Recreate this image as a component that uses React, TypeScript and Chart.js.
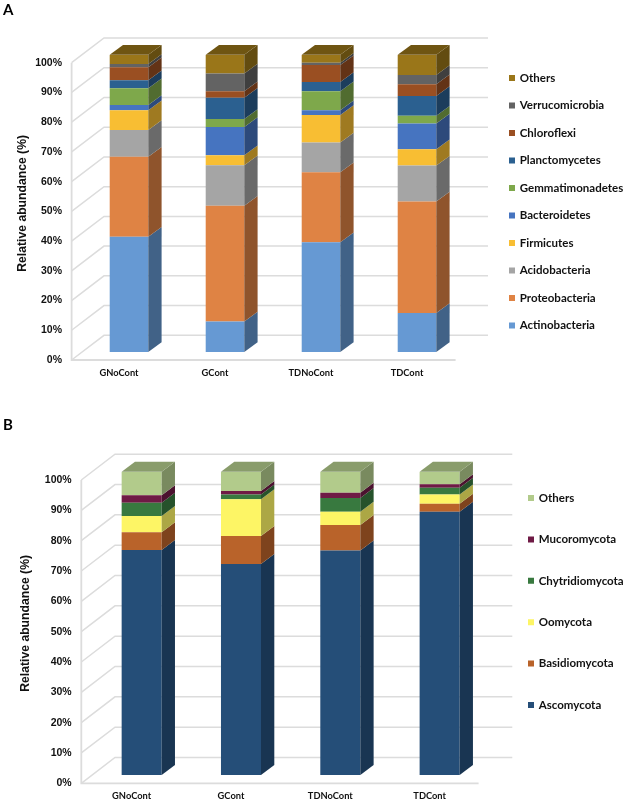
import React, { useEffect, useRef } from "react";
import { Chart, registerables } from "chart.js";

Chart.register(...registerables);

const categories = ["GNoCont", "GCont", "TDNoCont", "TDCont"];
const percentTicks = [0, 10, 20, 30, 40, 50, 60, 70, 80, 90, 100];

// Panel A (bacteria)
const actinobacteria = [38.8, 10.3, 36.9, 13.1];
const proteobacteria = [26.9, 38.9, 23.6, 37.5];
const acidobacteria = [9.0, 13.6, 10.0, 12.1];
const firmicutes = [6.6, 3.4, 9.2, 5.5];
const bacteroidetes = [1.8, 9.5, 1.6, 8.7];
const gemmatimonadetes = [5.6, 2.7, 6.4, 2.6];
const planctomycetes = [2.7, 7.1, 3.1, 6.6];
const chloroflexi = [4.4, 2.2, 5.7, 4.0];
const verrucomicrobia = [1.1, 6.0, 0.8, 3.1];
const othersA = [3.1, 6.3, 2.7, 6.8];

// Panel B (fungi)
const ascomycota = [74.2, 69.6, 74.0, 86.8];
const basidiomycota = [5.8, 9.2, 8.4, 2.6];
const oomycota = [5.4, 12.1, 4.4, 3.1];
const chytridiomycota = [4.4, 1.6, 4.5, 2.2];
const mucoromycota = [2.4, 1.1, 1.8, 1.2];
const othersB = [7.8, 6.4, 6.9, 4.1];

const seriesA = [
  { label: "Actinobacteria", data: actinobacteria, color: "#6699D3" },
  { label: "Proteobacteria", data: proteobacteria, color: "#DF8344" },
  { label: "Acidobacteria", data: acidobacteria, color: "#A5A5A5" },
  { label: "Firmicutes", data: firmicutes, color: "#F8BE33" },
  { label: "Bacteroidetes", data: bacteroidetes, color: "#4674C0" },
  { label: "Gemmatimonadetes", data: gemmatimonadetes, color: "#7EA84B" },
  { label: "Planctomycetes", data: planctomycetes, color: "#2B6090" },
  { label: "Chloroflexi", data: chloroflexi, color: "#9A4F22" },
  { label: "Verrucomicrobia", data: verrucomicrobia, color: "#636363" },
  { label: "Others", data: othersA, color: "#9A7619" },
];

const seriesB = [
  { label: "Ascomycota", data: ascomycota, color: "#254E78" },
  { label: "Basidiomycota", data: basidiomycota, color: "#B9632A" },
  { label: "Oomycota", data: oomycota, color: "#FDF565" },
  { label: "Chytridiomycota", data: chytridiomycota, color: "#38793F" },
  { label: "Mucoromycota", data: mucoromycota, color: "#6F1A45" },
  { label: "Others", data: othersB, color: "#B2CB8B" },
];

function shade(hex: string, f: number) {
  const n = parseInt(hex.slice(1), 16);
  const r = Math.round(((n >> 16) & 255) * f);
  const g = Math.round(((n >> 8) & 255) * f);
  const b = Math.round((n & 255) * f);
  return `rgb(${r},${g},${b})`;
}

type Layout = {
  height: number;
  top: number;
  bottom: number;
  left: number;
  right: number;
  barPct: number;
  frontDx: number;
  frontDy: number;
  backDx: number;
  backDy: number;
  depthDx: number;
  depthDy: number;
  sideF: number;
  topF: number;
  tickPad: number;
  titlePad: number;
  xLabelOffset: number;
  xLabelPad: number;
  legendX: number;
  legendY: number;
  legendPad: number;
};

const layoutA: Layout = {
  height: 400, top: 54.7, bottom: 352, left: 81, right: 465, barPct: 0.402,
  frontDx: -9.4, frontDy: 8, backDx: 23, backDy: -16.7,
  depthDx: 13.3, depthDy: -9.7, sideF: 0.64, topF: 0.72,
  tickPad: 19, titlePad: 15, xLabelOffset: -10, xLabelPad: 15.5,
  legendX: 510, legendY: 78, legendPad: 16,
};

const layoutB: Layout = {
  height: 402, top: 71.7, bottom: 375, left: 92, right: 489.3, barPct: 0.403,
  frontDx: -10.7, frontDy: 8.3, backDx: 23, backDy: -17.5,
  depthDx: 13.3, depthDy: -10, sideF: 0.68, topF: 0.77,
  tickPad: 20.3, titlePad: 18, xLabelOffset: -10, xLabelPad: 15.5,
  legendX: 529, legendY: 98, legendPad: 29.9,
};

function Panel({ series, layout, offsetTop }: { series: typeof seriesA; layout: Layout; offsetTop: number }) {
  const ref = useRef<HTMLCanvasElement | null>(null);

  useEffect(() => {
    if (!ref.current) return;
    const L = layout;
    const wallColor = "#DCDCDC";

    const wallPlugin = {
      id: "wall3d",
      beforeDatasetsDraw(chart: any) {
        const { ctx, scales } = chart;
        const y = scales.y;
        const xL = chart.chartArea.left;
        const xR = chart.chartArea.right;
        const yAt = (v: number) => y.getPixelForValue(v);
        ctx.save();
        ctx.lineWidth = 1.5;
        ctx.strokeStyle = wallColor;
        percentTicks.forEach((v) => {
          ctx.beginPath();
          ctx.moveTo(xL + L.frontDx, yAt(v) + L.frontDy);
          ctx.lineTo(xL + L.backDx, yAt(v) + L.backDy);
          ctx.lineTo(xR + L.backDx, yAt(v) + L.backDy);
          ctx.stroke();
        });
        ctx.lineWidth = 1.8;
        ctx.beginPath();
        ctx.moveTo(xL + L.frontDx, yAt(100) + L.frontDy);
        ctx.lineTo(xL + L.frontDx, yAt(0) + L.frontDy);
        ctx.lineTo(xR + L.frontDx, yAt(0) + L.frontDy);
        ctx.stroke();
        ctx.restore();
      },
      afterDatasetsDraw(chart: any) {
        const { ctx } = chart;
        const count = chart.data.datasets.length;
        ctx.save();
        chart.data.datasets.forEach((ds: any, i: number) => {
          const meta = chart.getDatasetMeta(i);
          meta.data.forEach((bar: any) => {
            const right = bar.x + bar.width / 2;
            const left = bar.x - bar.width / 2;
            ctx.fillStyle = shade(ds.backgroundColor, L.sideF);
            ctx.beginPath();
            ctx.moveTo(right, bar.base);
            ctx.lineTo(right + L.depthDx, bar.base + L.depthDy);
            ctx.lineTo(right + L.depthDx, bar.y + L.depthDy);
            ctx.lineTo(right, bar.y);
            ctx.closePath();
            ctx.fill();
            if (i === count - 1) {
              ctx.fillStyle = shade(ds.backgroundColor, L.topF);
              ctx.beginPath();
              ctx.moveTo(left, bar.y);
              ctx.lineTo(left + L.depthDx, bar.y + L.depthDy);
              ctx.lineTo(right + L.depthDx, bar.y + L.depthDy);
              ctx.lineTo(right, bar.y);
              ctx.closePath();
              ctx.fill();
            }
          });
        });
        ctx.restore();
      },
      afterLayout(chart: any) {
        const lg = chart.legend;
        if (!lg) return;
        const h = lg.height;
        const w = lg.width;
        const fontSize = 11.5;
        lg.left = L.legendX - L.legendPad;
        lg.right = lg.left + w;
        lg.top = L.legendY - L.legendPad - fontSize / 2;
        lg.bottom = lg.top + h;
      },
    };

    const chart = new Chart(ref.current, {
      type: "bar",
      data: {
        labels: categories,
        datasets: series.map((s) => ({
          label: s.label,
          data: s.data,
          backgroundColor: s.color,
          borderWidth: 0,
          categoryPercentage: 1,
          barPercentage: L.barPct,
        })),
      },
      plugins: [wallPlugin],
      options: {
        animation: false,
        responsive: false,
        layout: {
          padding: { left: 0, top: L.top, right: 625 - L.right, bottom: L.height - L.bottom - 30 },
        },
        scales: {
          x: {
            stacked: true,
            grid: { display: false, drawTicks: false },
            border: { display: false },
            afterFit: (s: any) => { s.height = 30; },
            ticks: {
              color: "#111",
              maxRotation: 0,
              autoSkip: false,
              labelOffset: L.xLabelOffset,
              padding: L.xLabelPad,
              font: { family: "Lato", weight: "bold", size: 9.3 },
            },
          },
          y: {
            stacked: true,
            min: 0,
            max: 100,
            grid: { display: false, drawTicks: false },
            border: { display: false },
            afterFit: (s: any) => { s.width = L.left; },
            afterBuildTicks: (s: any) => { s.ticks = percentTicks.map((value) => ({ value })); },
            title: {
              display: true,
              text: "Relative abundance (%)",
              color: "#111",
              padding: { top: L.titlePad, bottom: 0 },
              font: { family: "Liberation Sans", weight: "bold", size: 12.2 },
            },
            ticks: {
              color: "#111",
              padding: L.tickPad,
              labelOffset: L.frontDy,
              callback: (v: any) => `${v}%`,
              font: { family: "Liberation Sans", weight: "bold", size: 10.5 },
            },
          },
        },
        plugins: {
          tooltip: { enabled: false },
          legend: {
            display: true,
            position: "chartArea",
            align: "start",
            reverse: true,
            labels: {
              boxWidth: 4,
              boxHeight: 4,
              padding: L.legendPad,
              color: "#111",
              font: { family: "Lato", weight: "bold", size: 11.5 },
              generateLabels: (c: any) =>
                Chart.defaults.plugins.legend.labels.generateLabels(c).map((item: any) => ({
                  ...item,
                  lineWidth: 2,
                  strokeStyle: item.fillStyle,
                })),
            },
          },
        },
      },
    } as any);
    return () => chart.destroy();
  }, [series, layout]);

  return (
    <canvas
      ref={ref}
      width={625}
      height={layout.height}
      style={{ position: "absolute", left: 0, top: offsetTop, width: 625, height: layout.height }}
    />
  );
}

const letterStyle: React.CSSProperties = {
  position: "absolute",
  left: 3,
  fontFamily: "Lato",
  fontWeight: 700,
  fontSize: 15,
  lineHeight: "16px",
  color: "#000",
};

export default function App() {
  return (
    <div style={{ position: "absolute", left: 0, top: 0, width: 625, height: 802, background: "#fff", overflow: "hidden" }}>
      <Panel series={seriesA} layout={layoutA} offsetTop={0} />
      <Panel series={seriesB} layout={layoutB} offsetTop={400} />
      <div style={{ ...letterStyle, top: 1 }}>A</div>
      <div style={{ ...letterStyle, top: 416 }}>B</div>
    </div>
  );
}
